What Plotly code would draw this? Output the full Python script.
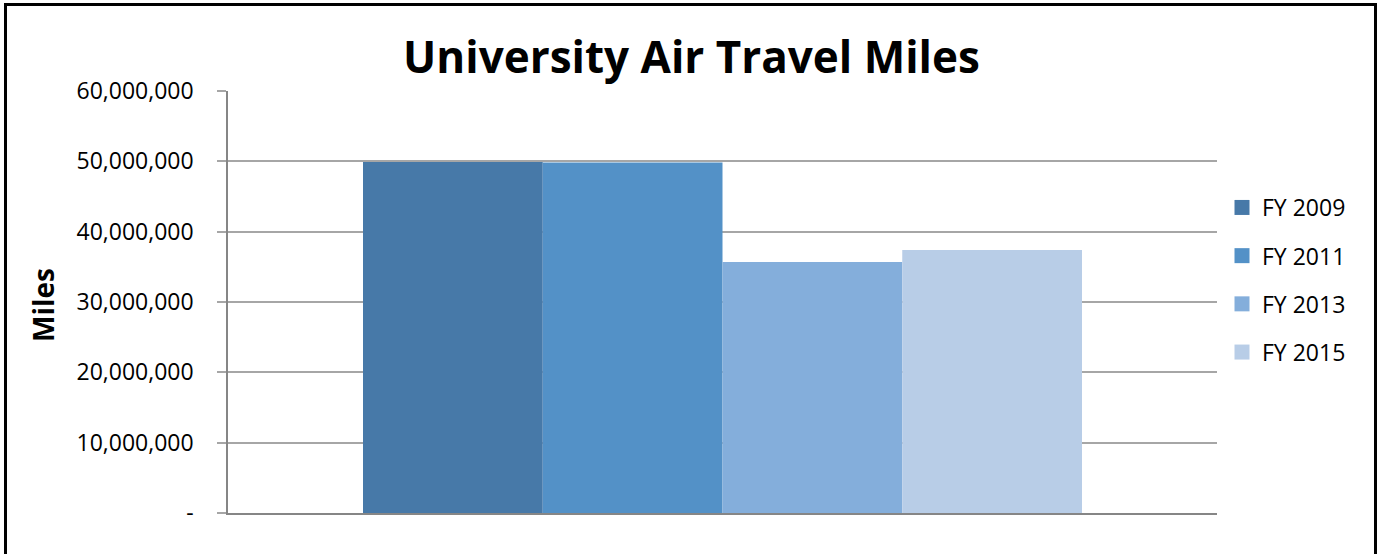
import plotly.graph_objects as go

categories = ["Total"]
series_names = ["FY 2009", "FY 2011", "FY 2013", "FY 2015"]
series_values = [49_900_000, 49_850_000, 35_700_000, 37_400_000]
colors = ["#4779A8", "#5391C7", "#84AEDB", "#B8CDE7"]
tick_vals = [0, 10_000_000, 20_000_000, 30_000_000, 40_000_000, 50_000_000, 60_000_000]
tick_text = ["-", "10,000,000", "20,000,000", "30,000,000", "40,000,000", "50,000,000", "60,000,000"]

W, H = 1383, 554
L, R, T, B = 228, 166, 91, 41
pw = W - L - R
ph = H - T - B

def px_x(x):
    return (x - L) / pw

def px_y(y):
    return (H - B - y) / ph

fig = go.Figure()
for name, val, col in zip(series_names, series_values, colors):
    fig.add_trace(go.Bar(x=categories, y=[val], name=name, marker_color=col,
                         marker_line_width=0, legendgroup=name, showlegend=False))
for name, col in zip(series_names, colors):
    fig.add_trace(go.Scatter(x=[None], y=[None], mode="markers", name=name, legendgroup=name,
                             marker=dict(symbol="square", size=15, color=col, line_width=0)))

FONT = "Open Sans"
fig.update_layout(
    width=W, height=H,
    margin=dict(l=L, r=R, t=T, b=B, pad=0),
    paper_bgcolor="white", plot_bgcolor="white",
    barmode="group", bargap=0.273, bargroupgap=0,
    font=dict(family=FONT, color="black"),
    title=dict(text="<b>University Air Travel Miles</b>", x=0.5, xanchor="center",
               y=1 - 58 / H, yanchor="middle", font=dict(size=44, family=FONT, color="black")),
    xaxis=dict(showticklabels=False, showgrid=False, showline=True, linecolor="#868686",
               linewidth=1.5, ticks="", zeroline=False),
    yaxis=dict(range=[0, 60_000_000], tickvals=tick_vals, ticktext=tick_text,
               showgrid=True, gridcolor="#A6A6A6", gridwidth=1.5,
               showline=True, linecolor="#868686", linewidth=1.5,
               ticks="outside", ticklen=9, tickcolor="#A6A6A6", tickwidth=1.5,
               ticklabelstandoff=19,
               tickfont=dict(size=23, family=FONT, color="black"), zeroline=False),
    legend=dict(x=px_x(1222), xanchor="left", y=px_y(186), yanchor="top",
                font=dict(size=23, family=FONT, color="black"),
                traceorder="grouped", tracegroupgap=15.3, bgcolor="rgba(0,0,0,0)"),
    showlegend=True,
)

fig.add_annotation(text="<b>Miles</b>", x=px_x(43), y=px_y(305), xref="paper", yref="paper",
                   textangle=-90, showarrow=False, xanchor="center", yanchor="middle",
                   font=dict(size=28, family=FONT, color="black"))

fig.add_shape(type="rect", xref="paper", yref="paper",
              x0=px_x(5.5), x1=px_x(1375.5), y0=px_y(570), y1=px_y(4.5),
              line=dict(color="black", width=3), fillcolor="rgba(0,0,0,0)", layer="above")

fig.write_html("out.html")
